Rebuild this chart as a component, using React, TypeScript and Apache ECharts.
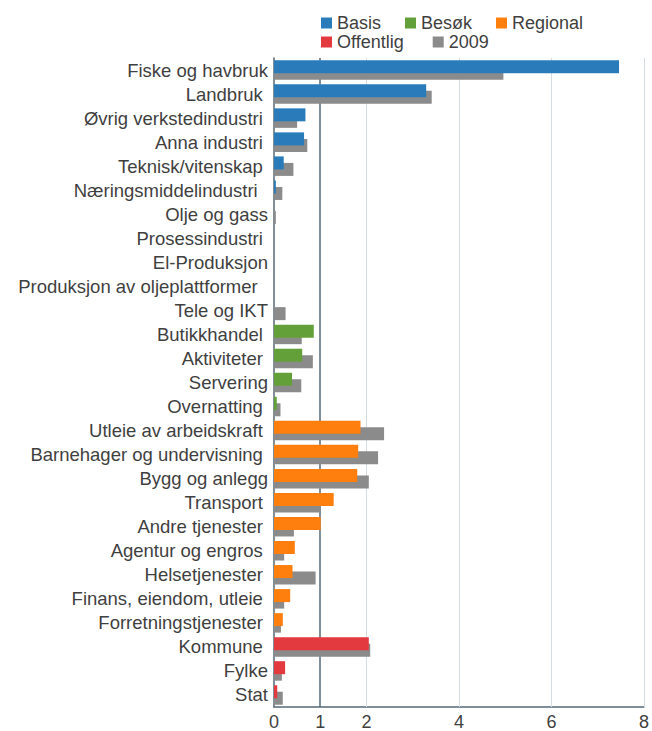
import React, { useEffect, useRef } from "react";
import * as echarts from "echarts";

const categories = [
  "Fiske og havbruk",
  "Landbruk ",
  "Øvrig verkstedindustri ",
  "Anna industri ",
  "Teknisk/vitenskap ",
  "Næringsmiddelindustri  ",
  "Olje og gass",
  "Prosessindustri ",
  "El-Produksjon",
  "Produksjon av oljeplattformer  ",
  "Tele og IKT",
  "Butikkhandel ",
  "Aktiviteter ",
  "Servering",
  "Overnatting ",
  "Utleie av arbeidskraft ",
  "Barnehager og undervisning ",
  "Bygg og anlegg",
  "Transport ",
  "Andre tjenester ",
  "Agentur og engros ",
  "Helsetjenester ",
  "Finans, eiendom, utleie ",
  "Forretningstjenester ",
  "Kommune ",
  "Fylke",
  "Stat",
];

// group values, in category order
const basisValues = [7.46, 3.29, 0.68, 0.65, 0.21, 0.04, 0, 0, 0, 0, 0];
const besokValues = [0.86, 0.61, 0.39, 0.06];
const regionalValues = [1.87, 1.82, 1.8, 1.29, 1.01, 0.45, 0.4, 0.35, 0.19];
const offentligValues = [2.05, 0.24, 0.07];
const values2009 = [
  4.96, 3.41, 0.5, 0.72, 0.42, 0.18, 0.04, 0, 0, 0, 0.25, 0.6, 0.84, 0.59, 0.14,
  2.38, 2.25, 2.05, 1.0, 0.43, 0.22, 0.9, 0.22, 0.15, 2.08, 0.17, 0.19,
];
const xTickLabels = [0, 1, 2, 4, 6, 8];
const referenceLine = 1;
const gridLines = [2, 4, 6, 8];

const groups = [
  { name: "Basis", values: basisValues, color: "#2a7bba" },
  { name: "Besøk", values: besokValues, color: "#64a03a" },
  { name: "Regional", values: regionalValues, color: "#fe7f0e" },
  { name: "Offentlig", values: offentligValues, color: "#e33a3f" },
];

export default function App() {
  const ref = useRef<HTMLDivElement>(null);
  useEffect(() => {
    if (!ref.current) return;
    const chart = echarts.init(ref.current, undefined, { renderer: "svg" });
    let offset = 0;
    const groupSeries = groups.map((g) => {
      const start = offset;
      offset += g.values.length;
      return {
        name: g.name,
        type: "bar",
        stack: "current",
        barWidth: 13,
        barGap: "-50%",
        z: 3,
        itemStyle: { color: g.color },
        data: categories.map((_, i) =>
          i >= start && i < start + g.values.length ? g.values[i - start] : "-"
        ),
      };
    });
    const font = "'Liberation Sans', Arial, Helvetica, sans-serif";
    const textColor = "#3f3f3f";
    const axisColor = "#566a78";
    chart.setOption({
      animation: false,
      textStyle: { fontFamily: font },
      legend: [
        {
          data: ["Basis", "Besøk", "Regional"],
          left: 316,
          top: 9,
          itemWidth: 11,
          itemHeight: 11,
          itemGap: 24,
          icon: "rect",
          textStyle: { fontSize: 18, color: textColor, fontFamily: font },
        },
        {
          data: ["Offentlig", "2009"],
          left: 316,
          top: 28,
          itemWidth: 11,
          itemHeight: 11,
          itemGap: 29,
          icon: "rect",
          textStyle: { fontSize: 18, color: textColor, fontFamily: font },
        },
      ],
      grid: { left: 274, right: 7, top: 58, bottom: 23, containLabel: false },
      xAxis: {
        type: "value",
        min: 0,
        max: 8,
        interval: 1,
        splitLine: { show: false },
        axisTick: { show: false },
        axisLine: { show: true, lineStyle: { color: axisColor, width: 1.5 } },
        axisLabel: {
          fontSize: 18,
          color: textColor,
          margin: 6,
          fontFamily: font,
          formatter: (v: number) => (xTickLabels.includes(v) ? String(v) : ""),
        },
      },
      yAxis: {
        type: "category",
        inverse: true,
        data: categories,
        axisTick: { show: false },
        axisLine: { show: true, lineStyle: { color: axisColor, width: 1.5 } },
        axisLabel: {
          interval: 0,
          fontSize: 18.5,
          color: textColor,
          margin: 6,
          fontFamily: font,
        },
      },
      series: [
        ...groupSeries,
        {
          name: "2009",
          type: "bar",
          barWidth: 13,
          barGap: "-50%",
          z: 2,
          itemStyle: { color: "#8b8b8b" },
          data: values2009,
          markLine: {
            silent: true,
            z: 1,
            symbol: ["none", "none"],
            label: { show: false },
            data: [
              ...gridLines.map((v) => ({
                xAxis: v,
                lineStyle: { color: "#d5dce2", width: 1, type: "solid" },
              })),
              { xAxis: referenceLine, lineStyle: { color: axisColor, width: 1.5, type: "solid" } },
            ],
          },
        },
      ],
    });
    return () => chart.dispose();
  }, []);
  return (
    <div
      ref={ref}
      style={{ position: "fixed", left: 0, top: 0, width: 652, height: 731, background: "#fff" }}
    />
  );
}
